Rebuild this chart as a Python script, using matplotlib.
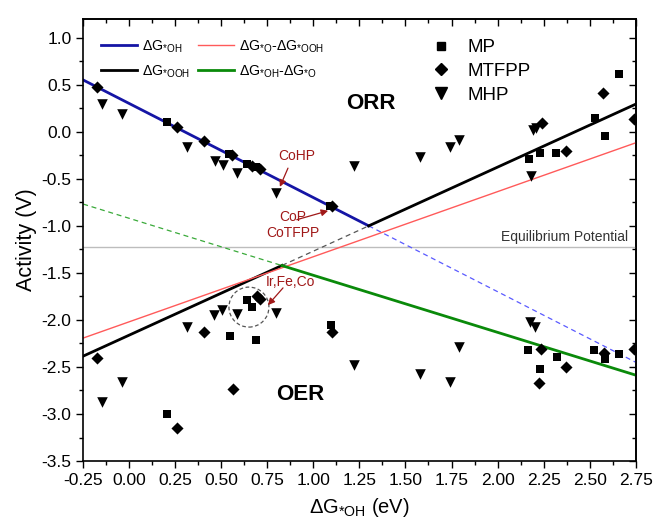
import matplotlib
matplotlib.use("Agg")
import matplotlib.pyplot as plt
from matplotlib.patches import Ellipse
from matplotlib.ticker import MultipleLocator, FormatStrFormatter, NullFormatter
from matplotlib.lines import Line2D

plt.rcParams['font.family'] = ['Liberation Sans', 'DejaVu Sans']
plt.rcParams['mathtext.fontset'] = 'custom'
plt.rcParams['mathtext.rm'] = 'Liberation Sans'
plt.rcParams['mathtext.it'] = 'Liberation Sans'
plt.rcParams['mathtext.bf'] = 'Liberation Sans:bold'

# ---------------- data ----------------
# MP (squares)
mp_x_orr = [0.205, 0.54, 0.64, 0.69, 1.09, 2.17, 2.23, 2.32, 2.53, 2.585, 2.66]
mp_y_orr = [0.10, -0.24, -0.34, -0.38, -0.79, -0.29, -0.23, -0.23, 0.15, -0.045, 0.61]
mp_x_oer = [0.205, 0.545, 0.638, 0.664, 0.69, 1.094, 2.167, 2.233, 2.322, 2.526, 2.585, 2.66]
mp_y_oer = [-3.00, -2.17, -1.79, -1.86, -2.21, -2.055, -2.32, -2.52, -2.39, -2.32, -2.42, -2.36]
# MTFPP (diamonds)
mt_x_orr = [-0.174, 0.257, 0.406, 0.56, 0.665, 0.71, 1.10, 2.24, 2.37, 2.57, 2.74]
mt_y_orr = [0.477, 0.052, -0.103, -0.25, -0.36, -0.40, -0.79, 0.09, -0.20, 0.41, 0.13]
mt_x_oer = [-0.174, 0.257, 0.406, 0.561, 0.692, 0.71, 1.099, 2.238, 2.224, 2.372, 2.576, 2.74]
mt_y_oer = [-2.40, -3.15, -2.13, -2.735, -1.744, -1.776, -2.126, -2.31, -2.673, -2.50, -2.347, -2.31]
# MHP (down triangles)
mh_x_orr = [-0.147, -0.038, 0.312, 0.464, 0.507, 0.583, 0.797, 1.222, 1.58, 1.742, 1.793, 2.183, 2.19, 2.21]
mh_y_orr = [0.293, 0.184, -0.16, -0.316, -0.355, -0.437, -0.649, -0.366, -0.273, -0.161, -0.089, -0.47, 0.02, 0.04]
mh_x_oer = [-0.147, -0.038, 0.312, 0.463, 0.505, 0.583, 0.795, 1.222, 1.58, 1.742, 1.793, 2.177, 2.205]
mh_y_oer = [-2.877, -2.664, -2.08, -1.949, -1.896, -1.942, -1.924, -2.477, -2.58, -2.655, -2.29, -2.02, -2.074]

# scaling lines (segment end points)
oh_solid_x = [-0.25, 1.30];   oh_solid_y = [0.55, -1.00]
oh_dash_x = [1.30, 2.75];     oh_dash_y = [-1.00, -2.45]
ooh_solid1_x = [-0.25, 0.83]; ooh_solid1_y = [-2.385, -1.421]
ooh_dash_x = [0.83, 1.30];    ooh_dash_y = [-1.421, -1.001]
ooh_solid2_x = [1.30, 2.75];  ooh_solid2_y = [-1.001, 0.293]
o_ooh_x = [-0.25, 2.75];      o_ooh_y = [-2.193, -0.118]
oh_o_dash_x = [-0.25, 0.83];  oh_o_dash_y = [-0.769, -1.423]
oh_o_solid_x = [0.83, 2.75];  oh_o_solid_y = [-1.423, -2.587]
eq_potential = -1.23

# ---------------- figure ----------------
fig = plt.figure(figsize=(6.55, 5.23), dpi=100)
ax = fig.add_axes([0.127, 0.1185, 0.8435, 0.8455])

blue = '#1515a5'
green = '#0a8a0a'
red = '#ff5a5a'

ax.axhline(eq_potential, color='#bdbdbd', lw=1.0, zorder=1)
ax.text(2.71, eq_potential + 0.04, 'Equilibrium Potential', ha='right', va='bottom',
        fontsize=10, color='#333333')

l_oh, = ax.plot(oh_solid_x, oh_solid_y, color=blue, lw=2.0, zorder=2)
ax.plot(oh_dash_x, oh_dash_y, color='#5a5aff', lw=0.9, ls=(0, (4, 3)), zorder=2)
l_ooh, = ax.plot(ooh_solid1_x, ooh_solid1_y, color='black', lw=2.0, zorder=2)
ax.plot(ooh_dash_x, ooh_dash_y, color='#555555', lw=0.9, ls=(0, (4, 3)), zorder=2)
ax.plot(ooh_solid2_x, ooh_solid2_y, color='black', lw=2.0, zorder=2)
l_o_ooh, = ax.plot(o_ooh_x, o_ooh_y, color=red, lw=1.0, zorder=2)
ax.plot(oh_o_dash_x, oh_o_dash_y, color='#3aaa3a', lw=0.9, ls=(0, (4, 3)), zorder=2)
l_oh_o, = ax.plot(oh_o_solid_x, oh_o_solid_y, color=green, lw=2.0, zorder=2)

ax.scatter(mp_x_orr + mp_x_oer, mp_y_orr + mp_y_oer, marker='s', s=38,
           color='black', zorder=3, linewidths=0)
ax.scatter(mt_x_orr + mt_x_oer, mt_y_orr + mt_y_oer, marker='D', s=38,
           color='black', zorder=3, linewidths=0)
ax.scatter(mh_x_orr + mh_x_oer, mh_y_orr + mh_y_oer, marker='v', s=58,
           color='black', zorder=3, linewidths=0)

ax.text(1.31, 0.30, 'ORR', fontsize=16, fontweight='bold', ha='center', va='center')
ax.text(0.93, -2.79, 'OER', fontsize=16, fontweight='bold', ha='center', va='center')

ann_color = '#a01818'
arrow_kw = dict(arrowstyle='-|>', color=ann_color, lw=0.9, mutation_scale=10,
                shrinkA=0, shrinkB=0)
ax.text(0.91, -0.26, 'CoHP', fontsize=10, color=ann_color, ha='center', va='center')
ax.annotate('', xy=(0.818, -0.586), xytext=(0.862, -0.387), arrowprops=arrow_kw)
ax.text(0.89, -0.99, 'CoP\nCoTFPP', fontsize=10, color=ann_color, ha='center', va='center',
        linespacing=1.15)
ax.annotate('', xy=(1.08, -0.84), xytext=(0.91, -0.935), arrowprops=arrow_kw)
ax.text(0.873, -1.595, 'Ir,Fe,Co', fontsize=10, color=ann_color, ha='center', va='center')
ax.annotate('', xy=(0.753, -1.843), xytext=(0.835, -1.66), arrowprops=arrow_kw)
ax.add_patch(Ellipse((0.65, -1.864), 0.217, 0.425, fill=False, ls=(0, (3, 2)),
                     ec='#555555', lw=0.9, zorder=2))

ax.set_xlim(-0.25, 2.75)
ax.set_ylim(-3.5, 1.2)
for a in (ax.xaxis,):
    a.set_major_locator(MultipleLocator(0.25))
    a.set_minor_locator(MultipleLocator(0.125))
ax.yaxis.set_major_locator(MultipleLocator(0.5))
ax.yaxis.set_minor_locator(MultipleLocator(0.25))
ax.xaxis.set_major_formatter(FormatStrFormatter('%.2f'))
ax.yaxis.set_major_formatter(FormatStrFormatter('%.1f'))
ax.tick_params(axis='both', which='both', labelsize=12.5, width=1.0, direction='out')
ax.tick_params(which='major', length=5)
ax.tick_params(which='minor', length=3)
for sp in ax.spines.values():
    sp.set_linewidth(1.2)

# inward ticks on top and right
top = ax.secondary_xaxis('top')
top.xaxis.set_major_locator(MultipleLocator(0.25))
top.xaxis.set_minor_locator(MultipleLocator(0.125))
top.xaxis.set_major_formatter(NullFormatter())
top.tick_params(which='both', direction='in', width=1.0)
top.tick_params(which='major', length=5)
top.tick_params(which='minor', length=3)
right = ax.secondary_yaxis('right')
right.yaxis.set_major_locator(MultipleLocator(0.5))
right.yaxis.set_minor_locator(MultipleLocator(0.25))
right.yaxis.set_major_formatter(NullFormatter())
right.tick_params(which='both', direction='in', width=1.0)
right.tick_params(which='major', length=5)
right.tick_params(which='minor', length=3)
for sa in (top, right):
    for sp in sa.spines.values():
        sp.set_linewidth(1.2)

ax.set_xlabel(r'$\Delta$G$_{\mathrm{*OH}}$ (eV)', fontsize=14.5, labelpad=6)
ax.set_ylabel('Activity (V)', fontsize=15.5, labelpad=3)

leg1 = ax.legend([l_oh, l_ooh, l_o_ooh, l_oh_o],
                 [r'$\Delta$G$_{\mathrm{*OH}}$', r'$\Delta$G$_{\mathrm{*OOH}}$',
                  r'$\Delta$G$_{\mathrm{*O}}$-$\Delta$G$_{\mathrm{*OOH}}$',
                  r'$\Delta$G$_{\mathrm{*OH}}$-$\Delta$G$_{\mathrm{*O}}$'],
                 ncol=2, loc='upper left', bbox_to_anchor=(0.01, 0.985), frameon=False,
                 fontsize=10.2, handlelength=2.5, handletextpad=0.35, columnspacing=0.6,
                 labelspacing=0.6, borderaxespad=0.5)
ax.add_artist(leg1)
h_mp = Line2D([], [], marker='s', ls='none', color='black', markersize=6)
h_mt = Line2D([], [], marker='D', ls='none', color='black', markersize=6)
h_mh = Line2D([], [], marker='v', ls='none', color='black', markersize=8)
ax.legend([h_mp, h_mt, h_mh], ['MP', 'MTFPP', 'MHP'], loc='upper left',
          bbox_to_anchor=(0.597, 0.992), frameon=False, fontsize=13.5,
          handletextpad=0.8, labelspacing=0.35, handlelength=1.2)

fig.savefig('out.png', dpi=100)
